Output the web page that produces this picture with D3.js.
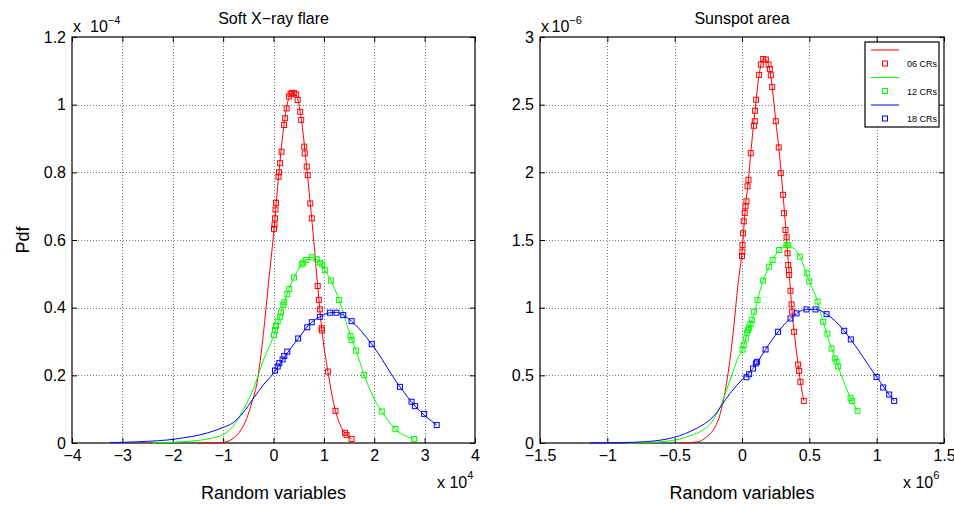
<!DOCTYPE html>
<html>
<head>
<meta charset="utf-8">
<script src="https://cdn.jsdelivr.net/npm/d3@7"></script>
<style>
  body { margin: 0; background: #fff; }
  text { font-family: "Liberation Sans", Arial, Helvetica, sans-serif; fill: #000; }
</style>
</head>
<body>
<script>
// left panel: Soft X-ray flare (x in 1e4, y in 1e-4)
const xrayXTicks = [-4, -3, -2, -1, 0, 1, 2, 3, 4]
const xrayYTicks = [0, 0.2, 0.4, 0.6, 0.8, 1, 1.2]

const xrayLine06 = [[-1.5,0],[-1.2,0.0005],[-1.0,0.002],[-0.9,0.005],[-0.8,0.014],[-0.65,0.038],[-0.53,0.073],[-0.43,0.12],[-0.33,0.176],[-0.2,0.324],[-0.1,0.472],[0,0.615],[0.1,0.787],[0.2,0.93],[0.3,1.018],[0.37,1.035],[0.45,1.028],[0.55,0.96],[0.65,0.827],[0.73,0.708],[0.8,0.596],[0.877,0.464],[0.956,0.339],[1.08,0.211],[1.23,0.095],[1.35,0.045],[1.45,0.024],[1.55,0.012]]
const xrayMark06 = [[0.01,0.633],[0.02,0.645],[0.03,0.664],[0.04,0.69],[0.05,0.71],[0.10,0.787],[0.11,0.80],[0.13,0.827],[0.16,0.861],[0.21,0.94],[0.23,0.96],[0.26,0.989],[0.31,1.024],[0.34,1.032],[0.37,1.035],[0.41,1.034],[0.45,1.03],[0.48,1.014],[0.53,0.979],[0.55,0.955],[0.61,0.876],[0.62,0.856],[0.66,0.817],[0.68,0.792],[0.73,0.708],[0.76,0.664],[0.877,0.464],[0.90,0.423],[0.92,0.395],[0.956,0.339],[0.96,0.333],[1.08,0.211],[1.23,0.095],[1.42,0.03],[1.45,0.024],[1.55,0.012]]

const xrayLine12 = [[-2.4,0],[-2.0,0.002],[-1.6,0.006],[-1.3,0.012],[-1.0,0.025],[-0.8,0.05],[-0.66,0.083],[-0.4,0.16],[-0.2,0.245],[0,0.315],[0.2,0.41],[0.4,0.487],[0.6,0.535],[0.76,0.549],[0.9,0.537],[1.02,0.511],[1.14,0.48],[1.3,0.423],[1.53,0.316],[1.64,0.273],[1.8,0.201],[2.0,0.13],[2.15,0.093],[2.42,0.041],[2.79,0.012]]
const xrayMark12 = [[0.01,0.319],[0.03,0.334],[0.05,0.346],[0.083,0.359],[0.13,0.373],[0.15,0.386],[0.194,0.408],[0.214,0.416],[0.274,0.44],[0.313,0.455],[0.407,0.489],[0.56,0.528],[0.59,0.533],[0.64,0.541],[0.76,0.549],[0.857,0.543],[0.923,0.533],[0.968,0.528],[1.02,0.511],[1.14,0.48],[1.30,0.423],[1.53,0.316],[1.55,0.304],[1.64,0.273],[1.80,0.201],[2.15,0.093],[2.42,0.041],[2.79,0.012]]

const xrayLine18 = [[-3.25,0.001],[-3.0,0.002],[-2.5,0.005],[-2.1,0.009],[-1.8,0.015],[-1.46,0.024],[-1.2,0.035],[-1.0,0.046],[-0.8,0.06],[-0.6,0.09],[-0.4,0.132],[-0.2,0.172],[0,0.206],[0.2,0.25],[0.49,0.309],[0.76,0.357],[0.92,0.373],[1.12,0.385],[1.25,0.386],[1.385,0.378],[1.55,0.36],[1.95,0.292],[2.51,0.166],[2.81,0.109],[3.24,0.053]]
const xrayMark18 = [[0.03,0.214],[0.083,0.226],[0.115,0.236],[0.18,0.247],[0.214,0.257],[0.274,0.27],[0.49,0.309],[0.67,0.342],[0.76,0.357],[0.92,0.373],[1.12,0.385],[1.25,0.385],[1.385,0.378],[1.55,0.36],[1.95,0.292],[2.51,0.166],[2.74,0.122],[2.81,0.109],[2.99,0.086],[3.24,0.053]]

// right panel: Sunspot area (x in 1e6, y in 1e-6)
const spotXTicks = [-1.5, -1, -0.5, 0, 0.5, 1, 1.5]
const spotYTicks = [0, 0.5, 1, 1.5, 2, 2.5, 3]

const spotLine06 = [[-0.46,0],[-0.4,0.002],[-0.35,0.006],[-0.3,0.018],[-0.264,0.044],[-0.215,0.094],[-0.165,0.205],[-0.115,0.44],[-0.066,0.81],[-0.029,1.18],[0,1.41],[0.026,1.749],[0.048,1.945],[0.065,2.142],[0.097,2.455],[0.127,2.72],[0.157,2.838],[0.177,2.833],[0.197,2.796],[0.224,2.63],[0.251,2.378],[0.273,2.184],[0.305,1.834],[0.331,1.5],[0.35,1.26],[0.372,0.97],[0.387,0.822],[0.417,0.58],[0.434,0.452],[0.459,0.311]]
const spotMark06 = [[0.0,1.382],[0.003,1.414],[0.004,1.464],[0.008,1.55],[0.013,1.638],[0.02,1.70],[0.026,1.749],[0.033,1.786],[0.041,1.897],[0.048,1.945],[0.065,2.142],[0.088,2.344],[0.095,2.378],[0.097,2.455],[0.105,2.537],[0.127,2.72],[0.14,2.796],[0.157,2.838],[0.177,2.833],[0.197,2.796],[0.207,2.764],[0.214,2.717],[0.224,2.63],[0.251,2.378],[0.273,2.184],[0.288,1.994],[0.305,1.834],[0.311,1.698],[0.323,1.574],[0.331,1.52],[0.338,1.402],[0.343,1.315],[0.348,1.278],[0.35,1.241],[0.36,1.125],[0.368,1.024],[0.372,0.97],[0.387,0.822],[0.417,0.58],[0.424,0.533],[0.434,0.452],[0.459,0.311]]

const spotLine12 = [[-0.85,0],[-0.7,0.004],[-0.55,0.014],[-0.46,0.03],[-0.38,0.055],[-0.3,0.09],[-0.24,0.135],[-0.165,0.26],[-0.115,0.39],[-0.066,0.53],[-0.029,0.63],[0.004,0.69],[0.045,0.834],[0.088,0.95],[0.115,1.056],[0.157,1.2],[0.201,1.303],[0.276,1.426],[0.331,1.463],[0.343,1.46],[0.43,1.377],[0.499,1.194],[0.561,1.045],[0.603,0.895],[0.665,0.698],[0.714,0.566],[0.806,0.332],[0.858,0.238]]
const spotMark12 = [[0.004,0.69],[0.013,0.723],[0.028,0.773],[0.038,0.815],[0.045,0.834],[0.053,0.852],[0.063,0.879],[0.073,0.91],[0.088,0.97],[0.115,1.056],[0.157,1.2],[0.201,1.303],[0.227,1.352],[0.276,1.426],[0.331,1.463],[0.343,1.46],[0.43,1.377],[0.484,1.254],[0.499,1.194],[0.561,1.045],[0.603,0.895],[0.634,0.808],[0.665,0.698],[0.689,0.625],[0.702,0.6],[0.714,0.566],[0.806,0.332],[0.818,0.311],[0.858,0.238]]

const spotLine18 = [[-1.13,0],[-0.9,0.003],[-0.71,0.01],[-0.6,0.022],[-0.51,0.04],[-0.42,0.07],[-0.34,0.107],[-0.215,0.193],[-0.09,0.365],[0.008,0.477],[0.082,0.55],[0.175,0.691],[0.268,0.822],[0.36,0.92],[0.479,0.987],[0.546,0.987],[0.628,0.952],[0.759,0.829],[0.808,0.765],[0.999,0.488],[1.093,0.358],[1.13,0.311]]
const spotMark18 = [[0.033,0.486],[0.053,0.508],[0.082,0.55],[0.103,0.588],[0.112,0.6],[0.175,0.691],[0.268,0.822],[0.36,0.92],[0.405,0.958],[0.479,0.987],[0.546,0.987],[0.628,0.952],[0.759,0.829],[0.808,0.765],[0.999,0.488],[1.048,0.41],[1.093,0.358],[1.13,0.311]]

const legendLabels = ['06 CRs', '12 CRs', '18 CRs']
const colors = ['#ff0000', '#00ff00', '#0000ff']

const width = 954
const height = 505

const svg = d3.select('body').append('svg')
  .attr('width', width)
  .attr('height', height)

const drawPanel = (cfg) => {
  const x = d3.scaleLinear().domain(cfg.xDomain).range([cfg.left, cfg.right])
  const y = d3.scaleLinear().domain(cfg.yDomain).range([cfg.bottom, cfg.top])
  const g = svg.append('g')

  // grid
  g.append('g').selectAll('line')
    .data(cfg.xTicks.slice(1, -1))
    .enter().append('line')
    .attr('x1', d => Math.round(x(d)) + 0.5).attr('x2', d => Math.round(x(d)) + 0.5)
    .attr('y1', cfg.top).attr('y2', cfg.bottom)
    .attr('stroke', '#777').attr('stroke-dasharray', '1,2')
  g.append('g').selectAll('line')
    .data(cfg.yTicks.slice(1, -1))
    .enter().append('line')
    .attr('y1', d => Math.round(y(d)) + 0.5).attr('y2', d => Math.round(y(d)) + 0.5)
    .attr('x1', cfg.left).attr('x2', cfg.right)
    .attr('stroke', '#777').attr('stroke-dasharray', '1,2')

  // axes, ticks inside on all sides
  const fmt = d => d3.format('')(d).replace('-', '\u2212')
  const bottomAxis = d3.axisBottom(x).tickValues(cfg.xTicks).tickSize(-5).tickPadding(7).tickFormat(fmt)
  const topAxis = d3.axisTop(x).tickValues(cfg.xTicks).tickSize(-5).tickFormat('')
  const leftAxis = d3.axisLeft(y).tickValues(cfg.yTicks).tickSize(-5).tickPadding(6).tickFormat(fmt)
  const rightAxis = d3.axisRight(y).tickValues(cfg.yTicks).tickSize(-5).tickFormat('')

  const axes = [
    [bottomAxis, `translate(0,${cfg.bottom})`],
    [topAxis, `translate(0,${cfg.top})`],
    [leftAxis, `translate(${cfg.left},0)`],
    [rightAxis, `translate(${cfg.right},0)`]
  ]
  axes.forEach(([ax, tr]) => {
    const a = g.append('g').attr('transform', tr).call(ax)
    a.select('.domain').remove()
    a.selectAll('line').attr('stroke', '#000')
    a.selectAll('text').attr('font-size', 16).attr('font-family', '"Liberation Sans", Arial, sans-serif')
  })

  g.append('rect')
    .attr('x', cfg.left).attr('y', cfg.top)
    .attr('width', cfg.right - cfg.left).attr('height', cfg.bottom - cfg.top)
    .attr('fill', 'none').attr('stroke', '#000').attr('stroke-width', 1.2)

  // curves and markers
  const line = d3.line().x(d => x(d[0])).y(d => y(d[1])).curve(d3.curveMonotoneX)
  cfg.series.forEach((s, i) => {
    g.append('path')
      .attr('d', line(s.line))
      .attr('fill', 'none')
      .attr('stroke', colors[i])
      .attr('stroke-width', 1)
    g.append('g').selectAll('rect')
      .data(s.marks)
      .enter().append('rect')
      .attr('x', d => x(d[0]) - 2.5)
      .attr('y', d => y(d[1]) - 2.5)
      .attr('width', 5).attr('height', 5)
      .attr('fill', 'none')
      .attr('stroke', colors[i])
      .attr('stroke-width', 1)
  })

  // title
  g.append('text')
    .attr('x', (cfg.left + cfg.right) / 2).attr('y', 24)
    .attr('text-anchor', 'middle').attr('font-size', 16)
    .text(cfg.title)

  // x label
  g.append('text')
    .attr('x', (cfg.left + cfg.right) / 2).attr('y', 499)
    .attr('text-anchor', 'middle').attr('font-size', 18)
    .text('Random variables')

  // exponent labels
  const ty = g.append('text').attr('x', cfg.yExpX).attr('y', 32).attr('font-size', 16)
  ty.append('tspan').text('x')
  ty.append('tspan').attr('x', cfg.yExpX + cfg.yExpGap).text('10')
  ty.append('tspan').attr('dy', -8).attr('font-size', 11).text(cfg.yExp)

  const tx = g.append('text').attr('x', cfg.xExpX).attr('y', 488).attr('font-size', 16)
  tx.append('tspan').text('x 10')
  tx.append('tspan').attr('dy', -9).attr('font-size', 11).text(cfg.xExp)

  return { x, y }
}

drawPanel({
  left: 72, right: 475, top: 37, bottom: 443,
  xDomain: [-4, 4], yDomain: [0, 1.2],
  xTicks: xrayXTicks, yTicks: xrayYTicks,
  title: 'Soft X\u2212ray flare',
  yExpX: 73, yExpGap: 17, yExp: '\u22124',
  xExpX: 437, xExp: '4',
  series: [
    { line: xrayLine06, marks: xrayMark06 },
    { line: xrayLine12, marks: xrayMark12 },
    { line: xrayLine18, marks: xrayMark18 }
  ]
})

drawPanel({
  left: 540, right: 944, top: 37, bottom: 443,
  xDomain: [-1.5, 1.5], yDomain: [0, 3],
  xTicks: spotXTicks, yTicks: spotYTicks,
  title: 'Sunspot area',
  yExpX: 541, yExpGap: 10.5, yExp: '\u22126',
  xExpX: 903, xExp: '6',
  series: [
    { line: spotLine06, marks: spotMark06 },
    { line: spotLine12, marks: spotMark12 },
    { line: spotLine18, marks: spotMark18 }
  ]
})

// y label
svg.append('text')
  .attr('transform', 'translate(29,240) rotate(-90)')
  .attr('text-anchor', 'middle').attr('font-size', 18)
  .text('Pdf')

// legend
const legend = svg.append('g').attr('transform', 'translate(865,42)')
legend.append('rect')
  .attr('width', 74).attr('height', 85)
  .attr('fill', '#fff').attr('stroke', '#000').attr('stroke-width', 1.2)
legendLabels.forEach((label, i) => {
  const gy = 8 + i * 27.5
  legend.append('line')
    .attr('x1', 6).attr('x2', 34).attr('y1', gy).attr('y2', gy)
    .attr('stroke', colors[i])
  legend.append('rect')
    .attr('x', 17.5).attr('y', gy + 11).attr('width', 5).attr('height', 5)
    .attr('fill', 'none').attr('stroke', colors[i])
  legend.append('text')
    .attr('x', 42).attr('y', gy + 17)
    .attr('font-size', 9)
    .text(label)
})
</script>
</body>
</html>
